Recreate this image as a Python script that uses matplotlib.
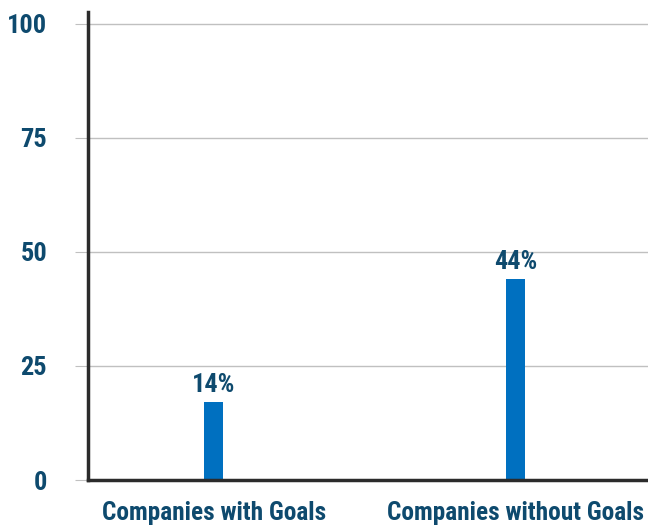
import matplotlib
matplotlib.use("Agg")
import matplotlib.pyplot as plt
from matplotlib import font_manager

categories = ["Companies with Goals", "Companies without Goals"]
bar_heights = [17, 44]
bar_labels = ["14%", "44%"]
y_ticks = [0, 25, 50, 75, 100]

names = {f.name for f in font_manager.fontManager.ttflist}
fam = [n for n in ["Liberation Sans Narrow", "Roboto Condensed", "Liberation Sans"] if n in names] + ["DejaVu Sans"]
plt.rcParams['font.family'] = fam

text_color = "#0e4a6e"
bar_color = "#0070c0"
fs = 19

fig = plt.figure(figsize=(6.48, 5.27), dpi=100)
ax = fig.add_axes([88/648, 1-480/527, 560/648, 468/527])

x = list(range(len(categories)))
ax.bar(x, bar_heights, width=0.063, color=bar_color, zorder=3)
for xi, h, lab in zip(x, bar_heights, bar_labels):
    ax.text(xi, h + 1.2, lab, ha="center", va="bottom", fontsize=fs,
            fontweight="bold", color=text_color)

ax.set_xlim(-0.416, 1.439)
ax.set_ylim(0, 102.6)
ax.set_yticks(y_ticks)
ax.set_yticklabels([str(t) for t in y_ticks], fontsize=fs, fontweight="bold", color=text_color)
ax.tick_params(axis="y", length=9.4, color="#c0c0c0", width=0.8, pad=20)
ax.set_xticks(x)
ax.set_xticklabels(categories, fontsize=18.3, fontweight="bold", color=text_color)
ax.tick_params(axis="x", length=0, pad=15)
ax.yaxis.grid(True, color="#c0c0c0", linewidth=1, zorder=0)
ax.set_axisbelow(True)

for s in ["top", "right"]:
    ax.spines[s].set_visible(False)
for s in ["left", "bottom"]:
    ax.spines[s].set_color("#2b2b2b")
    ax.spines[s].set_linewidth(2.5)
    ax.spines[s].set_zorder(4)

fig.savefig("out.png", dpi=100)
